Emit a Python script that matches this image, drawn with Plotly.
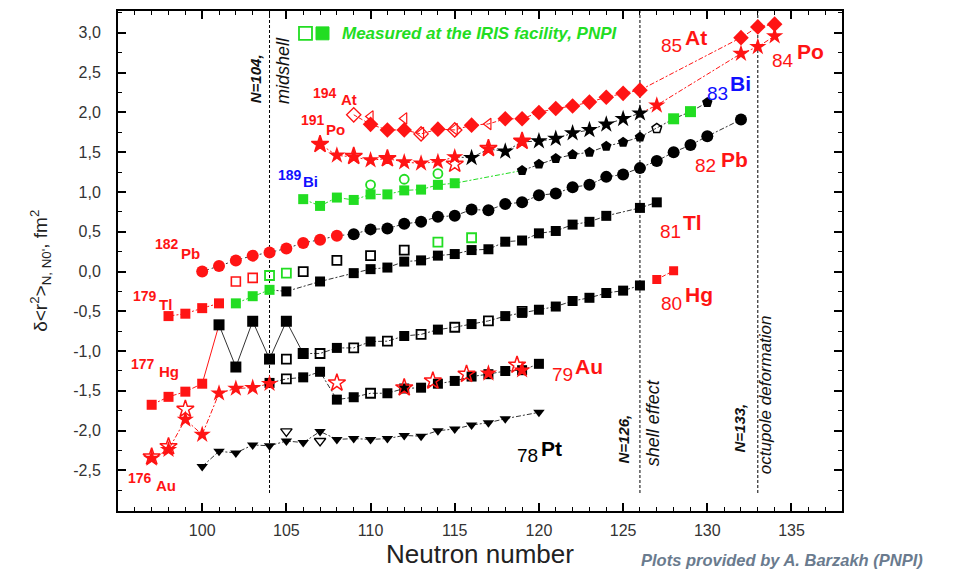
import plotly.graph_objects as go

# ---------------- data (neutron number N, delta<r^2> in fm^2) ----------------
# 78Pt
pt_n = [100, 101, 102, 103, 104, 105, 106, 107, 108, 109, 110, 111, 112, 113, 114, 115, 116, 117, 118, 120]
pt_r = [-2.45, -2.26, -2.28, -2.18, -2.19, -2.13, -2.15, -2.01, -2.11, -2.10, -2.11, -2.10, -2.06, -2.07, -2.00, -1.98, -1.93, -1.90, -1.85, -1.77]
pt_iso_n = [105, 107]
pt_iso_r = [-2.01, -2.13]

# 79Au
au_star_n = [97, 98, 99, 100, 101, 102, 103, 104]
au_star_r = [-2.35, -2.24, -1.86, -2.05, -1.53, -1.47, -1.46, -1.41]
au_star2_n = [117, 119]
au_star2_r = [-1.28, -1.24]
au_ostar_n = [97, 98, 99, 108, 112, 113.7, 115.7, 118.7]
au_ostar_r = [-2.33, -2.20, -1.73, -1.40, -1.46, -1.375, -1.29, -1.175]
au_sq_n = [104, 106, 107, 108, 109, 111, 112, 113, 114, 115, 116, 117, 118, 119, 120]
au_sq_r = [-1.40, -1.33, -1.26, -1.61, -1.58, -1.53, -1.47, -1.46, -1.41, -1.375, -1.32, -1.29, -1.25, -1.24, -1.16]
au_osq_n = [105, 110]
au_osq_r = [-1.35, -1.53]

# 80Hg
hg_red_n = [97, 98, 99, 100]
hg_red_r = [-1.675, -1.575, -1.51, -1.41]
hg_zig_n = [101, 102, 103, 104, 105, 106]
hg_zig_r = [-0.67, -1.20, -0.625, -1.10, -0.625, -1.03]
hg_sq_n = [108, 110, 112, 114, 116, 118, 119, 120, 121, 122, 123, 124, 125, 126]
hg_sq_r = [-0.96, -0.88, -0.81, -0.73, -0.66, -0.56, -0.52, -0.48, -0.44, -0.37, -0.33, -0.27, -0.24, -0.175]
hg_osq_n = [105, 107, 109, 111, 113, 115, 117, 119]
hg_osq_r = [-1.10, -1.03, -0.96, -0.875, -0.79, -0.70, -0.62, -0.50]
hg_heavy_n = [127, 128]
hg_heavy_r = [-0.10, 0.01]

# 81Tl
tl_red_n = [98, 99, 100, 101]
tl_red_r = [-0.56, -0.53, -0.46, -0.40]
tl_ored_n = [102, 103]
tl_ored_r = [-0.125, -0.08]
tl_green_n = [102, 103, 104]
tl_green_r = [-0.40, -0.31, -0.23]
tl_ogreen_n = [104, 105, 114, 116]
tl_ogreen_r = [-0.05, -0.02, 0.37, 0.425]
tl_sq_n = [105, 107, 109, 110, 111, 112, 113, 114, 115, 116, 117, 118, 119, 120, 121, 122, 123, 124, 126, 127]
tl_sq_r = [-0.25, -0.125, -0.02, 0.03, 0.05, 0.125, 0.14, 0.20, 0.22, 0.27, 0.28, 0.375, 0.39, 0.48, 0.51, 0.59, 0.625, 0.70, 0.80, 0.87]
tl_osq_n = [106, 108, 110, 112]
tl_osq_r = [0.0, 0.14, 0.20, 0.27]

# 82Pb
pb_red_n = [100, 101, 102, 103, 104, 105, 106, 107, 108]
pb_red_r = [0.0, 0.07, 0.14, 0.20, 0.24, 0.29, 0.36, 0.40, 0.45]
pb_n = [109, 110, 111, 112, 113, 114, 115, 116, 117, 118, 119, 120, 121, 122, 123, 124, 125, 126, 127, 128, 129, 130, 132]
pb_r = [0.47, 0.53, 0.54, 0.60, 0.625, 0.69, 0.70, 0.78, 0.77, 0.85, 0.87, 0.96, 0.98, 1.06, 1.09, 1.19, 1.22, 1.30, 1.39, 1.50, 1.59, 1.70, 1.91]

# 83Bi
bi_green_n = [106, 107, 108, 109, 110, 111, 112, 113, 114, 115]
bi_green_r = [0.91, 0.825, 0.93, 0.90, 0.97, 0.97, 1.02, 1.03, 1.09, 1.11]
bi_ocirc_n = [110, 112, 114]
bi_ocirc_r = [1.09, 1.16, 1.23]
bi_pent_n = [119, 120, 121, 122, 123, 124, 125, 126, 130]
bi_pent_r = [1.27, 1.35, 1.42, 1.47, 1.50, 1.575, 1.625, 1.69, 2.125]
bi_opent_n = [127]
bi_opent_r = [1.80]
bi_green2_n = [128, 129]
bi_green2_r = [1.92, 2.01]

# 84Po
po_red_n = [107, 108, 109, 110, 111, 112, 113, 114, 115, 117, 119, 127, 132, 133, 134]
po_red_r = [1.60, 1.46, 1.44, 1.40, 1.42, 1.375, 1.36, 1.38, 1.44, 1.54, 1.63, 2.09, 2.74, 2.825, 2.96]
po_ored_n = [107, 109, 111, 115, 117, 119]
po_ored_r = [1.60, 1.45, 1.42, 1.35, 1.55, 1.64]
po_black_n = [116, 118, 120, 121, 122, 123, 124, 125, 126]
po_black_r = [1.43, 1.51, 1.64, 1.67, 1.74, 1.78, 1.85, 1.92, 1.99]

# 85At
at_n = [110, 111, 112, 114, 116, 118, 119, 120, 121, 122, 123, 124, 125, 126, 132, 133, 134]
at_r = [1.85, 1.78, 1.78, 1.79, 1.84, 1.92, 1.92, 2.00, 2.05, 2.08, 2.13, 2.19, 2.24, 2.28, 2.94, 3.075, 3.11]
at_odia_n = [109, 113, 115]
at_odia_r = [1.97, 1.73, 1.78]
at_otri_n = [110, 112, 113, 115, 117]
at_otri_r = [1.95, 1.925, 1.74, 1.79, 1.855]

# axis ticks
x_ticks = [100, 105, 110, 115, 120, 125, 130, 135]
y_ticks = [-2.5, -2.0, -1.5, -1.0, -0.5, 0.0, 0.5, 1.0, 1.5, 2.0, 2.5, 3.0]
y_ticktext = ["-2,5", "-2,0", "-1,5", "-1,0", "-0,5", "0,0", "0,5", "1,0", "1,5", "2,0", "2,5", "3,0"]

# element labels: (number, symbol)
big_labels = [("85", "At"), ("84", "Po"), ("83", "Bi"), ("82", "Pb"), ("81", "Tl"), ("80", "Hg"), ("79", "Au"), ("78", "Pt")]
small_labels = [("194", "At"), ("191", "Po"), ("189", "Bi"), ("182", "Pb"), ("179", "Tl"), ("177", "Hg"), ("176", "Au")]
magic_lines = [104, 126, 133]

# ---------------- styling / layout ----------------
RED = "#ff1414"
GREEN = "#22dd22"
BLUE = "#1010ff"
BLACK = "#000000"
LINEGREY = "#333333"
FONT = "Liberation Sans, Arial, sans-serif"
DD = "5px,2px,2px,2px"

big_pos = {  # (num x, num y, sym x, sym y, colour)
    "At": (127.9, 2.84, 129.35, 2.94, RED),
    "Po": (134.5, 2.65, 136.1, 2.77, RED),
    "Bi": (130.6, 2.24, 131.95, 2.37, BLUE),
    "Pb": (129.9, 1.33, 131.6, 1.41, RED),
    "Tl": (127.8, 0.50, 129.15, 0.62, RED),
    "Hg": (127.9, -0.40, 129.5, -0.29, RED),
    "Au": (121.4, -1.29, 123.0, -1.19, RED),
    "Pt": (119.3, -2.31, 120.75, -2.22, BLACK),
}
small_pos = {
    "At": (107.3, 2.25, 108.7, 2.16, RED),
    "Po": (106.6, 1.90, 107.9, 1.79, RED),
    "Bi": (105.2, 1.21, 106.45, 1.13, BLUE),
    "Pb": (97.9, 0.34, 99.3, 0.23, RED),
    "Tl": (96.6, -0.31, 97.85, -0.41, RED),
    "Hg": (96.5, -1.16, 98.05, -1.26, RED),
    "Au": (96.3, -2.59, 97.85, -2.69, RED),
}

fig = go.Figure()


def line(xs, ys, color, dash=DD, width=1):
    fig.add_trace(go.Scatter(x=xs, y=ys, mode="lines", hoverinfo="skip",
                             line=dict(color=color, width=width, dash=dash)))


def pts(xs, ys, symbol, color, size, lw=0):
    fig.add_trace(go.Scatter(x=xs, y=ys, mode="markers",
                             marker=dict(symbol=symbol, color=color, size=size,
                                         line=dict(width=lw, color=color))))


def merged(*pairs, lo=-1e9, hi=1e9):
    d = {}
    for ns, rs in pairs:
        for n, r in zip(ns, rs):
            if lo <= n <= hi:
                d.setdefault(n, r)
    ks = sorted(d)
    return ks, [d[k] for k in ks]


# ---- connecting lines ----
line(pt_n, pt_r, LINEGREY)
line(au_star_n, au_star_r, RED)
line(*merged((au_sq_n, au_sq_r), (au_osq_n, au_osq_r)), LINEGREY)
line(hg_red_n, hg_red_r, RED)
line([hg_red_n[-1], hg_zig_n[0]], [hg_red_r[-1], hg_zig_r[0]], RED, dash="solid")
line(hg_zig_n, hg_zig_r, LINEGREY, dash="solid")
line(*merged((hg_zig_n, hg_zig_r), (hg_sq_n, hg_sq_r), (hg_osq_n, hg_osq_r), lo=106), LINEGREY)
line(hg_heavy_n, hg_heavy_r, RED, dash="4px,2px")
line(tl_red_n, tl_red_r, RED, dash="2px,2px")
line(tl_green_n, tl_green_r, GREEN)
line([tl_green_n[-1], tl_sq_n[0]], [tl_green_r[-1], tl_sq_r[0]], LINEGREY)
line(tl_sq_n, tl_sq_r, LINEGREY)
line(pb_red_n + pb_n[:1], pb_red_r + pb_r[:1], LINEGREY, dash="2px,3px")
line(pb_n, pb_r, LINEGREY)
line(bi_green_n + bi_pent_n[:1], bi_green_r + bi_pent_r[:1], GREEN)
line(*merged((bi_pent_n, bi_pent_r), (bi_opent_n, bi_opent_r), (bi_green2_n, bi_green2_r)), LINEGREY)
line(*merged((po_red_n, po_red_r), hi=115), RED, dash="2px,2px")
line(*merged((po_black_n, po_black_r), (po_red_n, po_red_r), lo=115, hi=126), LINEGREY)
line(*merged((po_black_n, po_black_r), (po_red_n, po_red_r), lo=126), RED)
line(*merged((at_n, at_r), (at_odia_n, at_odia_r), (at_otri_n, at_otri_r), hi=126), RED, dash="4px,2px")
line(*merged((at_n, at_r), lo=126), RED)

# ---- markers ----
pts(pt_n, pt_r, "triangle-down", BLACK, 10)
pts(pt_iso_n, pt_iso_r, "triangle-down-open", BLACK, 10, 1.3)

pts(au_sq_n, au_sq_r, "square", BLACK, 10)
pts(au_osq_n, au_osq_r, "square-open", BLACK, 9, 1.8)
pts(au_star_n, au_star_r, "star", RED, 13)
pts(au_star2_n, au_star2_r, "star", RED, 13)
pts(au_ostar_n, au_ostar_r, "star-open", RED, 13, 1.5)

pts(hg_red_n, hg_red_r, "square", RED, 10)
pts(hg_zig_n, hg_zig_r, "square", BLACK, 11)
pts(hg_sq_n, hg_sq_r, "square", BLACK, 10)
pts(hg_osq_n, hg_osq_r, "square-open", BLACK, 9, 1.8)
pts(hg_heavy_n, hg_heavy_r, "square", RED, 9)

pts(tl_red_n, tl_red_r, "square", RED, 10)
pts(tl_ored_n, tl_ored_r, "square-open", RED, 9, 1.6)
pts(tl_green_n, tl_green_r, "square", GREEN, 10)
pts(tl_ogreen_n, tl_ogreen_r, "square-open", GREEN, 9, 1.8)
pts(tl_sq_n, tl_sq_r, "square", BLACK, 10)
pts(tl_osq_n, tl_osq_r, "square-open", BLACK, 9, 1.8)

pts(pb_red_n, pb_red_r, "circle", RED, 12)
pts(pb_n, pb_r, "circle", BLACK, 12)

pts(bi_green_n, bi_green_r, "square", GREEN, 10)
pts(bi_ocirc_n, bi_ocirc_r, "circle-open", GREEN, 9, 1.8)
pts(bi_pent_n, bi_pent_r, "pentagon", BLACK, 11)
pts(bi_opent_n, bi_opent_r, "pentagon-open", BLACK, 10, 1.5)
pts(bi_green2_n, bi_green2_r, "square", GREEN, 11)

pts(po_black_n, po_black_r, "star", BLACK, 13)
pts(po_red_n, po_red_r, "star", RED, 13)
pts(po_ored_n, po_ored_r, "star-open", RED, 13, 1.5)

pts(at_n, at_r, "diamond", RED, 12)
pts(at_odia_n, at_odia_r, "diamond-open", RED, 11, 1.3)
pts(at_otri_n, at_otri_r, "triangle-left-open", RED, 10, 1.2)

# ---- magic number lines ----
for n in magic_lines:
    fig.add_shape(type="line", x0=n, x1=n, xref="x", yref="paper", y0=0.036, y1=1,
                  line=dict(color=BLACK, width=1, dash="3px,2px"), layer="below")

ann = []
for num, sym in big_labels:
    nx, ny, sx, sy, col = big_pos[sym]
    ann.append(dict(x=nx, y=ny, text=num, font=dict(size=19, color=col, family=FONT), showarrow=False))
    ann.append(dict(x=sx, y=sy, text="<b>" + sym + "</b>", font=dict(size=21, color=col, family=FONT), showarrow=False))
for num, sym in small_labels:
    nx, ny, sx, sy, col = small_pos[sym]
    ann.append(dict(x=nx, y=ny, text="<b>" + num + "</b>", font=dict(size=14, color=col, family=FONT), showarrow=False))
    ann.append(dict(x=sx, y=sy, text="<b>" + sym + "</b>", font=dict(size=15, color=col, family=FONT), showarrow=False))

vt = [
    (103.15, 2.42, "<b><i>N=104,</i></b>", 15), (104.8, 2.52, "<i>midshell</i>", 18),
    (125.0, -2.11, "<b><i>N=126,</i></b>", 15), (126.75, -1.90, "<i>shell effect</i>", 18),
    (131.9, -1.97, "<b><i>N=133,</i></b>", 15), (133.45, -1.55, "<i>octupole deformation</i>", 17),
]
for x, y, t, s in vt:
    ann.append(dict(x=x, y=y, text=t, textangle=-90, showarrow=False,
                    font=dict(size=s, color="#111111", family=FONT)))

ann.append(dict(xref="paper", yref="paper", x=0.3066, y=0.956, xanchor="left", yanchor="middle",
                text="<b><i>Measured at the IRIS facility, PNPI</i></b>", showarrow=False,
                font=dict(size=17, color=GREEN, family=FONT)))
ann.append(dict(xref="paper", yref="paper", x=1.1146, y=-0.097, xanchor="right", yanchor="middle",
                text="<b><i>Plots provided by A. Barzakh (PNPI)</i></b>", showarrow=False,
                font=dict(size=16.5, color="#6a7b8e", family=FONT)))
ann.append(dict(xref="paper", yref="paper", x=-0.108, y=0.48, xanchor="center", yanchor="middle", textangle=-90,
                text="δ&lt;r<sup>2</sup>&gt;<sub>N, N0'</sub>, fm<sup>2</sup>", showarrow=False,
                font=dict(size=19, color="#222222", family=FONT)))

# legend-like squares next to the IRIS note
fig.add_shape(type="rect", xref="paper", yref="paper", x0=(299 - 118) / 724, x1=(312 - 118) / 724,
              y0=(511 - 37) / 503, y1=(511 - 24) / 503, line=dict(color=GREEN, width=1.8))
fig.add_shape(type="rect", xref="paper", yref="paper", x0=(316 - 118) / 724, x1=(329 - 118) / 724,
              y0=(511 - 37) / 503, y1=(511 - 24) / 503, line=dict(color=GREEN, width=1), fillcolor=GREEN)

axis_common = dict(showline=True, linewidth=2, linecolor=BLACK, mirror="allticks", ticks="inside",
                   ticklen=8, tickwidth=1.5, tickcolor=BLACK, showgrid=False, zeroline=False,
                   tickfont=dict(size=16, color="#333333", family=FONT))

# page body has an 8px margin: figure is shrunk/offset so the plot frame lands where the reference has it
fig.update_layout(
    width=945, height=564,
    margin=dict(l=110, r=111, t=1, b=61),
    paper_bgcolor="white", plot_bgcolor="white",
    showlegend=False,
    annotations=ann,
    xaxis=dict(range=[95, 138], tickvals=x_ticks, ticktext=[str(v) for v in x_ticks],
               minor=dict(dtick=1, tick0=95, ticks="inside", ticklen=4, tickwidth=1.2, tickcolor=BLACK),
               ticklabelstandoff=4,
               title=dict(text="Neutron number", font=dict(size=26, color="#222222", family=FONT), standoff=2),
               **axis_common),
    yaxis=dict(range=[-3.01, 3.275], tickvals=y_ticks, ticktext=y_ticktext,
               minor=dict(dtick=0.25, tick0=0, ticks="inside", ticklen=4, tickwidth=1.2, tickcolor=BLACK),
               ticklabelstandoff=12,
               **axis_common),
)

fig.write_html("out.html")
